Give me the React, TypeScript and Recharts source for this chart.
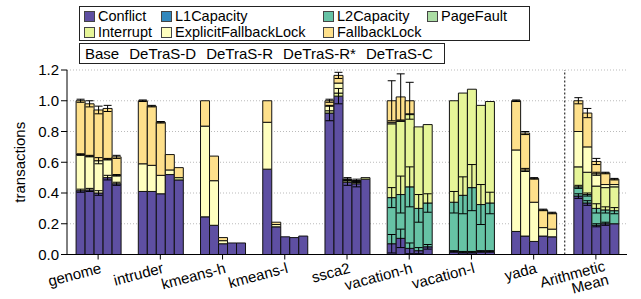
import { BarChart, Bar, XAxis, YAxis, CartesianGrid, ErrorBar, ReferenceLine } from 'recharts'

// benchmarks, and the five bars drawn in each group
const categories = ['genome', 'intruder', 'kmeans-h', 'kmeans-l', 'ssca2', 'vacation-h', 'vacation-l', 'yada', 'Arithmetic Mean']
const variants = ['Base', 'DeTraS-D', 'DeTraS-R', 'DeTraS-R*', 'DeTraS-C']

const seriesNames = ['Conflict', 'L1Capacity', 'L2Capacity', 'PageFault', 'Interrupt', 'ExplicitFallbackLock', 'FallbackLock']
const COLORS = ['#5e4fa2', '#3288bd', '#66c2a5', '#abdda4', '#e6f598', '#ffffbf', '#fee08b']

const yTicks = [0, 0.1, 0.2, 0.3, 0.4, 0.5, 0.6, 0.7, 0.8, 0.9, 1.0, 1.1, 1.2]

// segment heights, one row per benchmark, one column per variant
const conflict = [
  [0.415, 0.42, 0.4, 0.5, 0.46],
  [0.41, 0.41, 0.395, 0.52, 0.485],
  [0.245, 0.19, 0.07, 0.075, 0.075],
  [0.555, 0.18, 0.115, 0.11, 0.12],
  [0.92, 1.03, 0.47, 0.46, 0.49],
  [0.07, 0.105, 0.04, 0.025, 0.05],
  [0.02, 0.015, 0.015, 0.02, 0.02],
  [0.15, 0.12, 0.085, 0.12, 0.115],
  [0.38, 0.335, 0.19, 0.2, 0.2],
]
const l1Capacity = [
  [0, 0, 0, 0, 0],
  [0, 0, 0, 0, 0],
  [0, 0, 0, 0, 0],
  [0, 0, 0, 0, 0],
  [0, 0, 0, 0, 0],
  [0, 0, 0, 0, 0],
  [0, 0, 0, 0, 0],
  [0, 0, 0, 0, 0],
  [0, 0, 0, 0, 0],
]
const l2Capacity = [
  [0, 0, 0, 0, 0],
  [0, 0, 0, 0, 0],
  [0, 0, 0, 0, 0],
  [0, 0, 0, 0, 0],
  [0, 0, 0, 0, 0],
  [0.3, 0.285, 0.4, 0.275, 0.285],
  [0.32, 0.37, 0.42, 0.305, 0.315],
  [0, 0, 0, 0, 0],
  [0.06, 0.055, 0.11, 0.09, 0.085],
]
const pageFault = [
  [0, 0, 0, 0, 0],
  [0, 0, 0, 0, 0],
  [0, 0, 0, 0, 0],
  [0, 0, 0, 0, 0],
  [0, 0, 0, 0, 0],
  [0, 0, 0, 0, 0],
  [0, 0, 0, 0, 0],
  [0, 0, 0, 0, 0],
  [0, 0, 0, 0, 0],
]
const interrupt = [
  [0, 0, 0, 0, 0],
  [0, 0, 0, 0, 0.015],
  [0, 0, 0, 0, 0],
  [0, 0, 0, 0, 0],
  [0.015, 0.02, 0.01, 0.01, 0.01],
  [0.48, 0.475, 0.47, 0.53, 0.51],
  [0.66, 0.665, 0.64, 0.645, 0.66],
  [0, 0, 0, 0, 0],
  [0.13, 0.145, 0.145, 0.145, 0.155],
]
const explicitFallbackLock = [
  [0.235, 0.22, 0.21, 0.12, 0.055],
  [0.18, 0.17, 0.12, 0.03, 0],
  [0.59, 0.29, 0.02, 0, 0],
  [0.305, 0.015, 0, 0, 0],
  [0.03, 0.065, 0.005, 0.005, 0],
  [0.01, 0.005, 0.005, 0, 0],
  [0, 0, 0, 0, 0],
  [0.53, 0.43, 0.255, 0.055, 0.05],
  [0.23, 0.165, 0.08, 0.02, 0.015],
]
const fallbackLock = [
  [0.35, 0.34, 0.33, 0.33, 0.12],
  [0.41, 0.385, 0.345, 0.1, 0.065],
  [0.165, 0.16, 0.02, 0, 0],
  [0.14, 0.015, 0, 0, 0],
  [0.035, 0.05, 0.005, 0.005, 0],
  [0.14, 0.155, 0.085, 0, 0],
  [0, 0, 0, 0, 0],
  [0.32, 0.24, 0.155, 0.115, 0.105],
  [0.2, 0.22, 0.08, 0.075, 0.035],
]

// error bars, drawn at the top of the segment they belong to
const conflictErr = [
  [0.01, 0.01, 0.015, 0.015, 0.01],
  [0, 0, 0, 0, 0],
  [0, 0, 0, 0, 0],
  [0, 0, 0, 0, 0],
  [0.05, 0.05, 0.02, 0.02, 0],
  [0.06, 0.06, 0.035, 0.02, 0.015],
  [0.005, 0.005, 0.005, 0.005, 0.005],
  [0, 0, 0, 0, 0],
  [0.015, 0.015, 0.01, 0.01, 0],
]
const l2Err = [
  [0, 0, 0, 0, 0],
  [0, 0, 0, 0, 0],
  [0, 0, 0, 0, 0],
  [0, 0, 0, 0, 0],
  [0, 0, 0, 0, 0],
  [0.065, 0.12, 0.13, 0.09, 0.06],
  [0.07, 0.12, 0.15, 0.13, 0.07],
  [0, 0, 0, 0, 0],
  [0.01, 0.01, 0.03, 0.02, 0.02],
]
const explicitErr = [
  [0.005, 0.005, 0.02, 0.005, 0.005],
  [0, 0, 0, 0, 0],
  [0, 0, 0, 0, 0],
  [0, 0, 0, 0, 0],
  [0, 0, 0, 0, 0],
  [0, 0, 0, 0, 0],
  [0, 0, 0, 0, 0],
  [0, 0.01, 0, 0, 0],
  [0, 0, 0.01, 0, 0],
]
const totalErr = [
  [0.01, 0.02, 0.025, 0.02, 0.01],
  [0.005, 0.005, 0.005, 0, 0],
  [0, 0, 0, 0, 0],
  [0, 0, 0, 0, 0],
  [0.01, 0.02, 0.01, 0.01, 0.005],
  [0.13, 0.15, 0.12, 0.01, 0.005],
  [0.02, 0.04, 0.02, 0.015, 0.015],
  [0.005, 0.01, 0.005, 0.005, 0.005],
  [0.02, 0.03, 0.02, 0.005, 0.005],
]

const seriesValues = [conflict, l1Capacity, l2Capacity, pageFault, interrupt, explicitFallbackLock, fallbackLock]
const seriesErrors: Array<number[][] | null> = [conflictErr, null, l2Err, null, null, explicitErr, totalErr]

const data = categories.map((name, ci) => {
  const row: Record<string, string | number> = { name }
  variants.forEach((_, vi) => {
    seriesNames.forEach((s, si) => {
      row[`${s}_${vi}`] = seriesValues[si][ci][vi]
      const err = seriesErrors[si]
      if (err) row[`${s}_${vi}_err`] = err[ci][vi]
    })
  })
  return row
})

const FONT = '"Liberation Sans", Arial, sans-serif'

const XTick = (props: any) => {
  const { x, y, payload } = props
  const isMean = payload.value === 'Arithmetic Mean'
  const lines = isMean ? ['Arithmetic', 'Mean'] : [payload.value]
  return (
    <g transform={`translate(${x + (isMean ? 10 : 4)},${y + (isMean ? 9 : 11)})`}>
      <text transform="rotate(-15)" textAnchor="end" fontSize={15} fill="#000">
        {lines.map((l, i) => (
          <tspan key={l} x={0} dy={i === 0 ? 0 : 14}>
            {l}
          </tspan>
        ))}
      </text>
    </g>
  )
}

const legendRows = [
  [
    { name: 'Conflict', left: 84 },
    { name: 'L1Capacity', left: 161 },
    { name: 'L2Capacity', left: 323 },
    { name: 'PageFault', left: 427 },
  ],
  [
    { name: 'Interrupt', left: 84 },
    { name: 'ExplicitFallbackLock', left: 161 },
    { name: 'FallbackLock', left: 323 },
  ],
]

function SeriesLegend() {
  return (
    <div
      style={{
        position: 'absolute',
        left: 79,
        top: 6,
        width: 449,
        height: 33,
        border: '1px solid #222',
      }}
    >
      {legendRows.map((row, ri) =>
        row.map((item) => (
          <div
            key={item.name}
            style={{
              position: 'absolute',
              left: item.left - 80,
              top: ri * 16 + 2,
              height: 14,
              display: 'flex',
              alignItems: 'center',
              fontSize: 14.5,
              lineHeight: '14px',
              whiteSpace: 'nowrap',
            }}
          >
            <span
              style={{
                display: 'inline-block',
                width: 9,
                height: 9,
                background: COLORS[seriesNames.indexOf(item.name)],
                border: '1px solid #444',
                marginRight: 3,
              }}
            />
            {item.name}
          </div>
        ))
      )}
    </div>
  )
}

function VariantLegend() {
  return (
    <div
      style={{
        position: 'absolute',
        left: 79,
        top: 43,
        width: 366,
        height: 21,
        border: '1px solid #222',
        display: 'flex',
        alignItems: 'center',
        gap: 10,
        paddingLeft: 5,
        boxSizing: 'border-box',
        fontSize: 15,
        whiteSpace: 'nowrap',
      }}
    >
      {variants.map((v) => (
        <span key={v}>{v}</span>
      ))}
    </div>
  )
}

export default function App() {
  return (
    <div style={{ position: 'absolute', left: 0, top: 0, width: 641, height: 299, fontFamily: FONT, background: '#fff' }}>
      <BarChart
        width={641}
        height={299}
        data={data}
        margin={{ top: 70, right: 14, bottom: 0, left: 0 }}
        barGap={0}
        barCategoryGap="14.6%"
      >
        <CartesianGrid vertical={false} stroke="#bbb" strokeDasharray="1 2" />
        <XAxis
          dataKey="name"
          interval={0}
          tick={<XTick />}
          tickSize={5}
          height={44.5}
          axisLine={{ stroke: '#000' }}
          tickLine={{ stroke: '#000' }}
        />
        <YAxis
          domain={[0, 1.2]}
          ticks={yTicks}
          width={67}
          tickSize={6}
          tickFormatter={(v: number) => v.toFixed(1)}
          tick={{ fontSize: 15, fill: '#000' }}
          axisLine={{ stroke: '#000' }}
          tickLine={{ stroke: '#000' }}
          allowDataOverflow
          label={{
            value: 'transactions',
            angle: -90,
            position: 'insideLeft',
            offset: 20,
            style: { textAnchor: 'middle', fontSize: 15, fill: '#000' },
          }}
        />
        <ReferenceLine x="Arithmetic Mean" position="start" stroke="#000" strokeDasharray="2 2" />
        {variants.map((_, vi) =>
          seriesNames.map((s, si) => (
            <Bar
              key={`${s}_${vi}`}
              dataKey={`${s}_${vi}`}
              stackId={`v${vi}`}
              fill={COLORS[si]}
              stroke="#111"
              strokeWidth={1}
              isAnimationActive={false}
            >
              {seriesErrors[si] && (
                <ErrorBar dataKey={`${s}_${vi}_err`} width={4} stroke="#000" strokeWidth={1} />
              )}
            </Bar>
          ))
        )}
      </BarChart>
      <SeriesLegend />
      <VariantLegend />
    </div>
  )
}
